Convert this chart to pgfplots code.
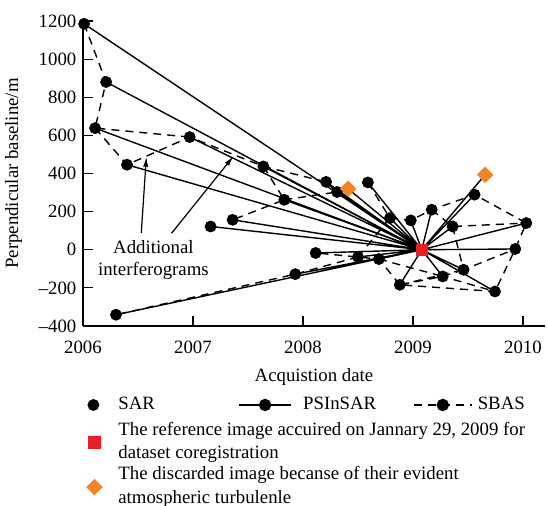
\documentclass[border=0pt]{standalone}
\usepackage{fontspec}
\setmainfont{Liberation Serif}
\usepackage{pgfplots}
\usepackage{pgfplotstable}
\pgfplotsset{compat=1.18}
\usetikzlibrary{arrows.meta}

\definecolor{refred}{RGB}{232,30,40}
\definecolor{discorange}{RGB}{242,132,36}

% legend pictures with fixed widths, so the columns line up
\pgfplotsset{
  sarlegend/.style={legend image code/.code={%
      \path[draw=none,fill=none] (0pt,-0.1pt) rectangle (17.5pt,0.1pt);
      \draw[##1] plot coordinates {(5pt,0pt)};}},
  pslegend/.style={legend image code/.code={%
      \path[draw=none,fill=none] (0pt,-0.1pt) rectangle (32pt,0.1pt);
      \draw[mark repeat=2,mark phase=2,##1] plot coordinates {(0pt,0pt)(13pt,0pt)(26pt,0pt)};}},
  sbaslegend/.style={legend image code/.code={%
      \path[draw=none,fill=none] (0pt,-0.1pt) rectangle (32pt,0.1pt);
      \draw[mark repeat=2,mark phase=2,##1] plot coordinates {(0pt,0pt)(14.5pt,0pt)(29pt,0pt)};}},
  sqlegend/.style={legend image code/.code={%
      \path[draw=none,fill=none] (0pt,-0.1pt) rectangle (17.5pt,0.1pt);
      \draw[##1] plot coordinates {(5.5pt,0pt)};}},
  frame/.style={at={(0,0)}, anchor=south west, scale only axis,
      width=231pt, height=152.5pt},
}

% acquisitions (date in years, perpendicular baseline in m)
\pgfplotstableread{
x y
2006.01 1185
2006.21 880
2006.11 638
2006.97 591
2006.40 446
2007.64 437
2008.21 356
2007.83 262
2007.36 157
2007.16 122
2008.31 303
2008.59 353
2008.79 166
2008.98 154
2009.56 289
2009.17 210
2009.36 122
2010.03 140
2009.93 4
2009.46 -105
2009.27 -140
2008.88 -184
2009.745 -219
2008.115 -17
2008.50 -38
2008.69 -49
2007.93 -128
2006.30 -341
}\sar

% single-master (PSInSAR) pairs, all tied to the reference image
\pgfplotstableread{
x y
2006.01 1185
2009.08 0
nan nan
2006.21 880
2009.08 0
nan nan
2006.11 638
2009.08 0
nan nan
2006.97 591
2009.08 0
nan nan
2006.40 446
2009.08 0
nan nan
2007.64 437
2009.08 0
nan nan
2008.21 356
2009.08 0
nan nan
2007.83 262
2009.08 0
nan nan
2007.36 157
2009.08 0
nan nan
2007.16 122
2009.08 0
nan nan
2008.31 303
2009.08 0
nan nan
2008.59 353
2009.08 0
nan nan
2008.79 166
2009.08 0
nan nan
2008.98 154
2009.08 0
nan nan
2009.56 289
2009.08 0
nan nan
2009.17 210
2009.08 0
nan nan
2009.36 122
2009.08 0
nan nan
2010.03 140
2009.08 0
nan nan
2009.93 4
2009.08 0
nan nan
2009.46 -105
2009.08 0
nan nan
2009.27 -140
2009.08 0
nan nan
2008.88 -184
2009.08 0
nan nan
2009.745 -219
2009.08 0
nan nan
2008.115 -17
2009.08 0
nan nan
2008.50 -38
2009.08 0
nan nan
2008.69 -49
2009.08 0
nan nan
2007.93 -128
2009.08 0
nan nan
2006.30 -341
2009.08 0
nan nan
2008.41 320
2009.08 0
nan nan
2009.655 393
2009.08 0
}\psinsar

% small-baseline (SBAS) pairs
\pgfplotstableread{
x y
2006.01 1185
2006.21 880
2006.11 638
2006.97 591
nan nan
2006.11 638
2006.40 446
2006.97 591
2007.64 437
2008.21 356
2008.31 303
nan nan
2007.64 437
2007.83 262
2007.36 157
nan nan
2007.83 262
2008.31 303
nan nan
2008.59 353
2008.79 166
2008.98 154
2009.17 210
2009.56 289
2010.03 140
2009.93 4
2009.745 -219
nan nan
2009.17 210
2009.36 122
2010.03 140
nan nan
2009.36 122
2009.46 -105
2009.93 4
nan nan
2009.46 -105
2009.27 -140
2008.88 -184
2009.745 -219
2009.27 -140
nan nan
2008.88 -184
2009.46 -105
nan nan
2008.88 -184
2008.69 -49
2008.50 -38
2008.115 -17
nan nan
2008.69 -49
2009.27 -140
nan nan
2008.50 -38
2008.79 166
nan nan
2008.50 -38
2007.93 -128
2006.30 -341
}\sbas

\begin{document}
\fontsize{9.4}{11.75}\selectfont
\begin{tikzpicture}[font=\fontsize{9.4}{11.75}\selectfont]
\begin{axis}[
  frame,
  xmin=2006, xmax=2010.2, ymin=-400, ymax=1200,
  axis x line=bottom, axis y line=left,
  axis line style={-, line width=0.6pt},
  tick align=inside, major tick length=5pt,
  tick style={black, line width=0.6pt},
  xtick={2006,2007,2008,2009,2010},
  xticklabels={2006,2007,2008,2009,2010},
  ytick={-400,-200,0,200,400,600,800,1000,1200},
  yticklabels={\textendash400,\textendash200,0,200,400,600,800,1000,1200},
  xticklabel style={yshift=-4pt},
  xlabel={Acquistion date},
  xlabel style={at={(axis description cs:0.5,-0.182)}, anchor=base},
  ylabel={Perpendicular baseline/m},
  ylabel style={at={(axis description cs:-0.15,0.5)}, anchor=center},
  clip=false,
  unbounded coords=jump,
  legend columns=3,
  legend cell align=left,
  legend style={draw=none, fill=none, inner sep=0pt, column sep=0pt,
    nodes={inner sep=0pt},
    at={(axis description cs:0,-0.259)}, anchor=west},
]
\addplot[black, line width=0.7pt, forget plot] table[x=x, y=y] {\psinsar};
\addplot[black, line width=0.7pt, dash pattern=on 4pt off 3pt, forget plot] table[x=x, y=y] {\sbas};
\addplot[only marks, mark=*, mark size=2.75pt, black, forget plot] table[x=x, y=y] {\sar};
% images dropped for atmospheric turbulence
\addplot[only marks, mark=square*, mark size=2.7pt, mark options={rotate=45}, discorange, forget plot]
  coordinates {(2008.41,320) (2009.655,393)};
% reference (master) image
\addplot[only marks, mark=square*, mark size=2.9pt, refred, forget plot]
  coordinates {(2009.08,0)};

\node[align=center, font=\fontsize{9.4}{10.8}\selectfont] at (axis cs:2006.64,-55) {Additional\\interferograms};
\draw[line width=0.6pt, -{Latex[length=5pt,width=2.6pt]}] (axis cs:2006.53,89) -- (axis cs:2006.576,488);
\draw[line width=0.6pt, -{Latex[length=5pt,width=2.6pt]}] (axis cs:2006.806,87) -- (axis cs:2007.367,490);

\addlegendimage{only marks, mark=*, mark size=2.75pt, black, sarlegend}
\addlegendentry{\makebox[60pt][l]{SAR}}
\addlegendimage{black, line width=0.7pt, mark=*, mark size=2.75pt, pslegend}
\addlegendentry{\makebox[55pt][l]{PSInSAR}}
\addlegendimage{black, line width=0.7pt, dash pattern=on 4pt off 3pt, mark=*, mark size=2.75pt, mark options={solid}, sbaslegend}
\addlegendentry{SBAS}
\end{axis}

\begin{axis}[
  frame, hide axis,
  xmin=0, xmax=1, ymin=0, ymax=1,
  legend cell align=left,
  legend style={draw=none, fill=none, inner sep=0pt, column sep=0pt, row sep=1.9pt,
    nodes={inner sep=0pt, text depth=},
    at={(axis description cs:0,-0.455)}, anchor=west},
]
\addlegendimage{only marks, mark=square*, mark size=2.9pt, refred, sqlegend}
\addlegendentry{\parbox{215pt}{The reference image accuired on Jannary 29, 2009 for\\dataset coregistration}}
\addlegendimage{only marks, mark=square*, mark size=2.7pt, mark options={rotate=45}, discorange, sqlegend}
\addlegendentry{\parbox{215pt}{The discarded image becanse of their evident\\atmospheric turbulenle}}
\end{axis}

\pgfresetboundingbox
\path[use as bounding box] (-41.5pt,-90pt) rectangle (232pt,163pt);
\end{tikzpicture}
\end{document}
